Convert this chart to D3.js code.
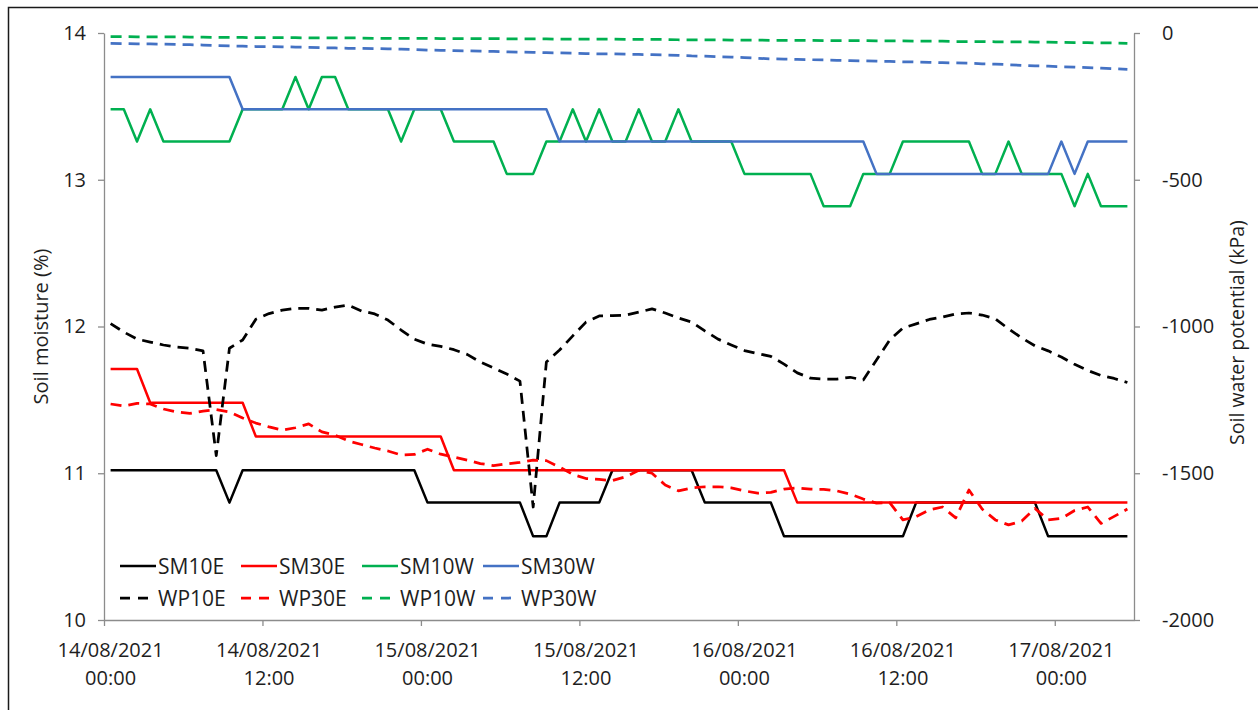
<!DOCTYPE html>
<html>
<head>
<meta charset="utf-8">
<script src="https://cdn.jsdelivr.net/npm/d3@7"></script>
<style>
  body { margin: 0; background: #ffffff; }
  svg text { font-family: "Open Sans", "DejaVu Sans", sans-serif; fill: #1e1e1e; }
</style>
</head>
<body>
<svg id="chart" width="1258" height="710"></svg>
<script>
// Hourly readings, 14/08/2021 00:00 to 17/08/2021 05:00
const categories = d3.timeHour.range(new Date(2021, 7, 14, 0), new Date(2021, 7, 17, 6));

// Tick labels every 12 hours (date / time on two lines)
const tickLabels = [
  ["14/08/2021", "00:00"], ["14/08/2021", "12:00"], ["15/08/2021", "00:00"],
  ["15/08/2021", "12:00"], ["16/08/2021", "00:00"], ["16/08/2021", "12:00"],
  ["17/08/2021", "00:00"]
];
const labelEvery = 12;
const moistureTicks = [10, 11, 12, 13, 14];
const potentialTicks = [0, -500, -1000, -1500, -2000];

// Soil moisture (%)
const SM10E = [11.02,11.02,11.02,11.02,11.02,11.02,11.02,11.02,11.02,10.80,
  11.02,11.02,11.02,11.02,11.02,11.02,11.02,11.02,11.02,11.02,
  11.02,11.02,11.02,11.02,10.80,10.80,10.80,10.80,10.80,10.80,
  10.80,10.80,10.57,10.57,10.80,10.80,10.80,10.80,11.02,11.02,
  11.02,11.02,11.02,11.02,11.02,10.80,10.80,10.80,10.80,10.80,
  10.80,10.57,10.57,10.57,10.57,10.57,10.57,10.57,10.57,10.57,
  10.57,10.80,10.80,10.80,10.80,10.80,10.80,10.80,10.80,10.80,
  10.80,10.57,10.57,10.57,10.57,10.57,10.57,10.57];
const SM30E = [11.71,11.71,11.71,11.48,11.48,11.48,11.48,11.48,11.48,11.48,
  11.48,11.25,11.25,11.25,11.25,11.25,11.25,11.25,11.25,11.25,
  11.25,11.25,11.25,11.25,11.25,11.25,11.02,11.02,11.02,11.02,
  11.02,11.02,11.02,11.02,11.02,11.02,11.02,11.02,11.02,11.02,
  11.02,11.02,11.02,11.02,11.02,11.02,11.02,11.02,11.02,11.02,
  11.02,11.02,10.80,10.80,10.80,10.80,10.80,10.80,10.80,10.80,
  10.80,10.80,10.80,10.80,10.80,10.80,10.80,10.80,10.80,10.80,
  10.80,10.80,10.80,10.80,10.80,10.80,10.80,10.80];
const SM10W = [13.48,13.48,13.26,13.48,13.26,13.26,13.26,13.26,13.26,13.26,
  13.48,13.48,13.48,13.48,13.70,13.48,13.70,13.70,13.48,13.48,
  13.48,13.48,13.26,13.48,13.48,13.48,13.26,13.26,13.26,13.26,
  13.04,13.04,13.04,13.26,13.26,13.48,13.26,13.48,13.26,13.26,
  13.48,13.26,13.26,13.48,13.26,13.26,13.26,13.26,13.04,13.04,
  13.04,13.04,13.04,13.04,12.82,12.82,12.82,13.04,13.04,13.04,
  13.26,13.26,13.26,13.26,13.26,13.26,13.04,13.04,13.26,13.04,
  13.04,13.04,13.04,12.82,13.04,12.82,12.82,12.82];
const SM30W = [13.70,13.70,13.70,13.70,13.70,13.70,13.70,13.70,13.70,13.70,
  13.48,13.48,13.48,13.48,13.48,13.48,13.48,13.48,13.48,13.48,
  13.48,13.48,13.48,13.48,13.48,13.48,13.48,13.48,13.48,13.48,
  13.48,13.48,13.48,13.48,13.26,13.26,13.26,13.26,13.26,13.26,
  13.26,13.26,13.26,13.26,13.26,13.26,13.26,13.26,13.26,13.26,
  13.26,13.26,13.26,13.26,13.26,13.26,13.26,13.26,13.04,13.04,
  13.04,13.04,13.04,13.04,13.04,13.04,13.04,13.04,13.04,13.04,
  13.04,13.04,13.26,13.04,13.26,13.26,13.26,13.26];

// Soil water potential (kPa)
const WP10E = [-990,-1019,-1043,-1053,-1063,-1070,-1074,-1083,-1440,-1074,
  -1046,-975,-956,-944,-938,-938,-944,-934,-927,-947,
  -957,-978,-1012,-1043,-1060,-1068,-1079,-1095,-1121,-1141,
  -1162,-1186,-1615,-1121,-1080,-1032,-985,-964,-963,-961,
  -951,-940,-954,-971,-985,-1015,-1043,-1063,-1082,-1092,
  -1102,-1128,-1158,-1176,-1179,-1179,-1173,-1182,-1114,-1046,
  -1005,-991,-976,-968,-957,-954,-961,-974,-1008,-1039,
  -1066,-1083,-1104,-1129,-1150,-1167,-1177,-1191];
const WP30E = [-1264,-1271,-1262,-1264,-1281,-1291,-1296,-1288,-1283,-1291,
  -1312,-1329,-1342,-1353,-1345,-1332,-1359,-1370,-1390,-1402,
  -1414,-1424,-1438,-1436,-1418,-1435,-1445,-1455,-1467,-1474,
  -1468,-1463,-1455,-1457,-1479,-1504,-1518,-1521,-1525,-1512,
  -1490,-1500,-1540,-1560,-1550,-1546,-1546,-1550,-1560,-1568,
  -1565,-1554,-1550,-1554,-1555,-1560,-1571,-1588,-1602,-1600,
  -1659,-1648,-1625,-1615,-1652,-1557,-1622,-1659,-1676,-1663,
  -1620,-1659,-1654,-1627,-1615,-1671,-1647,-1622];
const WP10W = [-12,-12,-13,-13,-13,-13,-14,-14,-15,-15,
  -15,-16,-16,-16,-16,-17,-17,-17,-17,-17,
  -18,-18,-18,-18,-18,-19,-19,-19,-19,-19,
  -20,-20,-20,-20,-21,-21,-21,-21,-21,-22,
  -22,-22,-22,-23,-23,-23,-23,-24,-24,-24,
  -25,-25,-25,-25,-26,-26,-26,-26,-27,-27,
  -27,-28,-28,-28,-29,-29,-29,-30,-30,-30,
  -31,-31,-32,-33,-33,-34,-34,-35];
const WP30W = [-35,-36,-37,-37,-38,-39,-40,-41,-43,-44,
  -45,-46,-46,-47,-48,-49,-50,-51,-52,-52,
  -53,-54,-55,-56,-58,-59,-60,-61,-62,-63,
  -64,-65,-66,-67,-68,-69,-70,-71,-71,-72,
  -73,-74,-75,-76,-78,-79,-81,-82,-84,-86,
  -88,-89,-90,-91,-92,-93,-94,-95,-96,-97,
  -98,-99,-100,-101,-102,-103,-105,-106,-108,-110,
  -112,-113,-115,-116,-118,-120,-122,-124];

const seriesNames = ["SM10E", "SM30E", "SM10W", "SM30W", "WP10E", "WP30E", "WP10W", "WP30W"];

// ---- drawing ----
const svg = d3.select("#chart");
const plot = { left: 104, right: 1134, top: 33, bottom: 620 };

const colors = { E10: "#000000", E30: "#ff0000", W10: "#00b050", W30: "#4472c4" };
const series = [
  { name: "SM10E", values: SM10E, axis: "L", color: colors.E10, dash: null },
  { name: "SM30E", values: SM30E, axis: "L", color: colors.E30, dash: null },
  { name: "SM10W", values: SM10W, axis: "L", color: colors.W10, dash: null },
  { name: "SM30W", values: SM30W, axis: "L", color: colors.W30, dash: null },
  { name: "WP10E", values: WP10E, axis: "R", color: colors.E10, dash: "11,7" },
  { name: "WP30E", values: WP30E, axis: "R", color: colors.E30, dash: "11,7" },
  { name: "WP10W", values: WP10W, axis: "R", color: colors.W10, dash: "11,7" },
  { name: "WP30W", values: WP30W, axis: "R", color: colors.W30, dash: "11,7" }
];

// outer chart frame
svg.append("rect")
  .attr("x", 8.5).attr("y", 7.5)
  .attr("width", 1262).attr("height", 720)
  .attr("fill", "none").attr("stroke", "#1a1a1a").attr("stroke-width", 1.5);

const x = d3.scaleBand().domain(categories).range([plot.left, plot.right]).padding(0);
const xBoundary = d3.scaleLinear().domain([0, categories.length]).range([plot.left, plot.right]);
const yL = d3.scaleLinear().domain([10, 14]).range([plot.bottom, plot.top]);
const yR = d3.scaleLinear().domain([-2000, 0]).range([plot.bottom, plot.top]);
const xc = d => x(d) + x.bandwidth() / 2;

const axisColor = "#8c8c8c";
const fontSize = 20;
const plainNumber = d => String(d);

function styleAxis(g) {
  g.selectAll("path.domain").attr("stroke", axisColor).attr("stroke-width", 1.3);
  g.selectAll(".tick line").attr("stroke", axisColor).attr("stroke-width", 1.3);
  g.selectAll(".tick text").attr("font-size", fontSize).attr("fill", "#1e1e1e")
    .attr("font-family", '"Open Sans", sans-serif');
}

// left axis
svg.append("g")
  .attr("transform", `translate(${plot.left},0)`)
  .call(d3.axisLeft(yL).tickValues(moistureTicks).tickSize(6).tickSizeOuter(0).tickPadding(12).tickFormat(plainNumber))
  .call(styleAxis);

// right axis
svg.append("g")
  .attr("transform", `translate(${plot.right},0)`)
  .call(d3.axisRight(yR).tickValues(potentialTicks).tickSize(6).tickSizeOuter(0).tickPadding(22).tickFormat(plainNumber))
  .call(styleAxis);

// bottom axis: line + tick marks on category boundaries
svg.append("g")
  .attr("transform", `translate(0,${plot.bottom})`)
  .call(d3.axisBottom(xBoundary)
    .tickValues(d3.range(0, categories.length, labelEvery))
    .tickSize(6).tickSizeOuter(0).tickFormat(""))
  .call(styleAxis);

// bottom labels centred on their categories
const labelCats = categories.filter((d, i) => i % labelEvery === 0);
const xl = svg.append("g").attr("class", "x-labels");
labelCats.forEach((d, k) => {
  const t = xl.append("text")
    .attr("x", xc(d)).attr("text-anchor", "middle")
    .attr("font-size", fontSize);
  t.append("tspan").attr("x", xc(d)).attr("y", plot.bottom + 37).text(tickLabels[k][0]);
  t.append("tspan").attr("x", xc(d)).attr("y", plot.bottom + 65).text(tickLabels[k][1]);
});

// axis titles
svg.append("text")
  .attr("transform", `translate(48,${(plot.top + plot.bottom) / 2}) rotate(-90)`)
  .attr("text-anchor", "middle").attr("font-size", 20)
  .text("Soil moisture (%)");
svg.append("text")
  .attr("transform", `translate(1244,${(plot.top + plot.bottom) / 2 + 6}) rotate(-90)`)
  .attr("text-anchor", "middle").attr("font-size", 19.5)
  .text("Soil water potential (kPa)");

// series lines
const lineGen = yScale => d3.line()
  .x((v, i) => xc(categories[i]))
  .y(v => yScale(v));

const lines = svg.append("g").attr("class", "series");
series.forEach(s => {
  lines.append("path")
    .datum(s.values)
    .attr("d", lineGen(s.axis === "L" ? yL : yR))
    .attr("fill", "none")
    .attr("stroke", s.color)
    .attr("stroke-width", s.dash ? 2.75 : 2.5)
    .attr("stroke-dasharray", s.dash)
    .attr("stroke-linejoin", "round");
});

// legend: two rows of four
const legend = svg.append("g").attr("class", "legend");
const colX = [120, 241, 362, 483];
const rowY = [566, 598];
series.forEach((s, i) => {
  const cx = colX[i % 4], cy = rowY[Math.floor(i / 4)];
  legend.append("line")
    .attr("x1", cx).attr("x2", cx + 36).attr("y1", cy).attr("y2", cy)
    .attr("stroke", s.color).attr("stroke-width", s.dash ? 2.75 : 2.5)
    .attr("stroke-dasharray", s.dash ? "10,8" : null);
  legend.append("text")
    .attr("x", cx + 38).attr("y", cy + 7.5)
    .attr("font-size", 21)
    .text(seriesNames[i]);
});
</script>
</body>
</html>
